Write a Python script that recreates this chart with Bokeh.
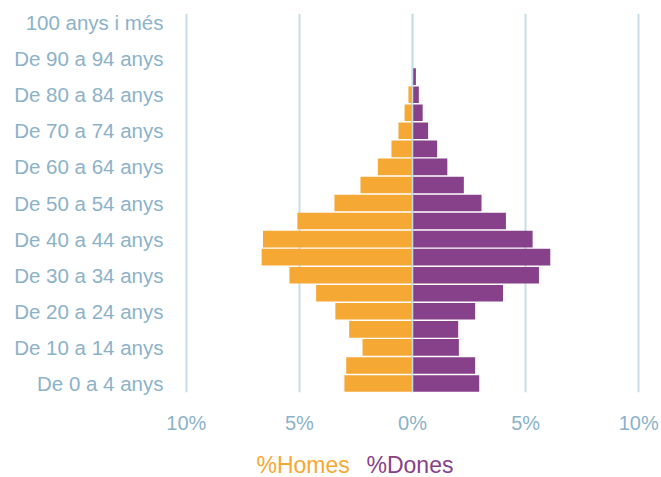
from bokeh.plotting import figure
from bokeh.models import FixedTicker, Span, ColumnDataSource
from bokeh.layouts import column
from bokeh.core.properties import value
from bokeh.embed import file_html
from bokeh.resources import INLINE

ages = ["De 0 a 4 anys", "De 5 a 9 anys", "De 10 a 14 anys", "De 15 a 19 anys",
        "De 20 a 24 anys", "De 25 a 29 anys", "De 30 a 34 anys", "De 35 a 39 anys",
        "De 40 a 44 anys", "De 45 a 49 anys", "De 50 a 54 anys", "De 55 a 59 anys",
        "De 60 a 64 anys", "De 65 a 69 anys", "De 70 a 74 anys", "De 75 a 79 anys",
        "De 80 a 84 anys", "De 85 a 89 anys", "De 90 a 94 anys", "De 95 a 99 anys",
        "100 anys i més"]
homes = [3.01, 2.93, 2.21, 2.80, 3.41, 4.26, 5.44, 6.67, 6.61, 5.09, 3.45,
         2.30, 1.53, 0.93, 0.62, 0.35, 0.18, 0.02, 0.0, 0.0, 0.0]
dones = [2.95, 2.77, 2.05, 2.02, 2.77, 4.00, 5.59, 6.09, 5.31, 4.13, 3.05,
         2.27, 1.54, 1.09, 0.69, 0.45, 0.28, 0.15, 0.02, 0.0, 0.0]
x_ticks = [-10, -5, 0, 5, 10]
x_tick_labels = ["10%", "5%", "0%", "5%", "10%"]
series_names = ["%Homes", "%Dones"]

ORANGE = "#F6A834"
PURPLE = "#87418A"
LABEL = "#8CB2C9"
GRID = "#C8DCE7"
FONT = "Liberation Sans"

idx = list(range(len(ages)))

BL, BR = 179, 16
W = 661

p = figure(width=W, height=440, x_range=(-10.3, 10.3), y_range=(-0.5, len(ages) - 0.5),
           output_backend="svg", toolbar_location=None,
           min_border_left=BL, min_border_right=BR, min_border_top=13, min_border_bottom=48)
p.outline_line_color = None

p.hbar(y=idx, left=[-v for v in homes], right=0, height=0.92, fill_color=ORANGE, line_color=None)
p.hbar(y=idx, left=0, right=dones, height=0.92, fill_color=PURPLE, line_color=None)

p.add_layout(Span(location=0, dimension="height", line_color=GRID, line_width=1.5, level="overlay"))

p.xaxis.ticker = FixedTicker(ticks=x_ticks)
p.xaxis.major_label_overrides = {t: l for t, l in zip(x_ticks, x_tick_labels)}
p.yaxis.ticker = FixedTicker(ticks=idx[::2])
p.yaxis.major_label_overrides = {i: ages[i] for i in idx[::2]}

for ax in (p.xaxis[0], p.yaxis[0]):
    ax.axis_line_color = None
    ax.major_tick_line_color = None
    ax.minor_tick_line_color = None
    ax.major_tick_out = 0
    ax.major_tick_in = 0
    ax.major_label_text_color = LABEL
    ax.major_label_text_font = FONT
p.xaxis.major_label_text_font_size = "20px"
p.xaxis.major_label_standoff = 19
p.yaxis.major_label_text_font_size = "20.5px"
p.yaxis.major_label_standoff = 16

p.ygrid.grid_line_color = None
p.xgrid.grid_line_color = GRID
p.xgrid.grid_line_width = 2

# legend strip below the chart; x range expressed in page pixels over the aligned frame
leg = figure(width=W, height=37, x_range=(BL, W - BR), y_range=(0, 37),
             output_backend="svg", toolbar_location=None,
             min_border_left=BL, min_border_right=BR, min_border_top=0, min_border_bottom=0)
leg.axis.visible = False
leg.grid.visible = False
leg.outline_line_color = None
leg_src = ColumnDataSource(dict(name=series_names, color=[ORANGE, PURPLE], x=[256, 366], y=[12.5, 12.5]))
leg.text(x="x", y="y", text="name", text_color="color", source=leg_src,
         text_font=value(FONT), text_font_size=value("23px"), text_baseline="alphabetic")

layout = column(p, leg, spacing=0)
open("out.html", "w").write(file_html(layout, INLINE))
